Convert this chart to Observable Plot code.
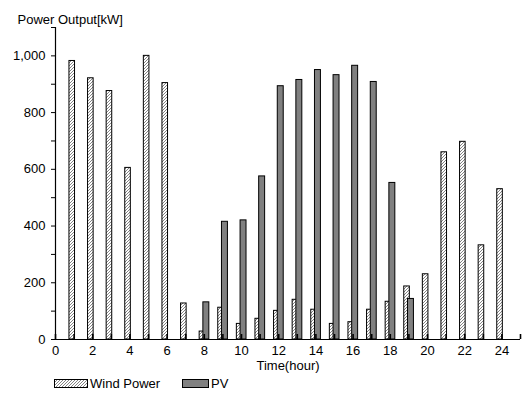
<!DOCTYPE html>
<html><head><meta charset="utf-8">
<script src="https://cdn.jsdelivr.net/npm/d3@7"></script>
<script src="https://cdn.jsdelivr.net/npm/@observablehq/plot@0.6"></script>
<style>
body{margin:0;background:#fff;font-family:"Liberation Sans",Arial,sans-serif}
#legend{position:relative;height:20px;width:523px}
</style>
</head><body><div id="chart"></div><div id="legend"></div>
<script>
const hours = d3.range(1, 25);
const windPower = [982, 921, 876, 605, 1000, 904, 127, 28, 112, 55, 73, 101, 140, 105, 55, 61, 105, 133, 187, 230, 660, 697, 332, 530];
const pvPower = [0, 0, 0, 0, 0, 0, 0, 131, 415, 420, 575, 893, 915, 950, 932, 965, 908, 552, 143, 0, 0, 0, 0, 0];
const xTickValues = d3.range(0, 26);
const xLabelValues = d3.range(0, 25, 2);
const yMajorTicks = [0, 200, 400, 600, 800, 1000];
const yMinorTicks = [100, 300, 500, 700, 900, 1100];
const seriesNames = ["Wind Power", "PV"];

const windRows = hours.map((h, i) => ({hour: h, value: windPower[i]})).filter(d => d.value > 0);
const pvRows = hours.map((h, i) => ({hour: h, value: pvPower[i]})).filter(d => d.value > 0);

const chart = Plot.plot({
  width: 523,
  height: 374,
  marginLeft: 55,
  marginRight: 3,
  marginTop: 27,
  marginBottom: 35,
  style: {fontFamily: "Liberation Sans, Arial, sans-serif", fontSize: "13px", color: "black", background: "white"},
  x: {domain: [0, 25], label: null},
  y: {domain: [0, 1100], label: null},
  marks: [
    Plot.rectY(windRows, {x1: d => d.hour - 0.25, x2: d => d.hour + 0.05, y: "value", fill: "url(#hatch)", stroke: "black", strokeWidth: 1}),
    Plot.rectY(pvRows, {x1: d => d.hour - 0.05, x2: d => d.hour + 0.27, y: "value", fill: "#808080", stroke: "black", strokeWidth: 1}),
    Plot.ruleY([0], {stroke: "black", strokeWidth: 1.2}),
    Plot.ruleX([0], {stroke: "black", strokeWidth: 1.2}),
    Plot.axisX({ticks: xTickValues, tickSize: -5, text: null, label: null, strokeWidth: 1.6}),
    Plot.axisX({ticks: xLabelValues, tickSize: 0, tickPadding: 6, label: null, fill: "black"}),
    Plot.axisY({ticks: yMajorTicks, tickSize: 4, tickPadding: 6, tickFormat: d3.format(","), label: null, fill: "black"}),
    Plot.axisY({ticks: yMinorTicks, tickSize: 4, text: null, label: null}),
    Plot.text(["Power Output[kW]"], {frameAnchor: "top-left", textAnchor: "start", lineAnchor: "top", dx: -38, dy: -13, fill: "black", fontSize: 13}),
    Plot.text(["Time(hour)"], {frameAnchor: "bottom", lineAnchor: "top", dy: 21, fill: "black", fontSize: 13})
  ]
});

d3.select(chart).insert("defs", ":first-child").html(
  '<pattern id="hatch" patternUnits="userSpaceOnUse" width="3" height="3">' +
  '<rect width="3" height="3" fill="white"/>' +
  '<path d="M-1,1 l2,-2 M0,3 l3,-3 M2,4 l2,-2" stroke="#666" stroke-width="0.8"/></pattern>'
);
document.getElementById("chart").appendChild(chart);

const lg = d3.select("#legend").append("svg").attr("width", 523).attr("height", 20)
  .style("font-family", "Liberation Sans, Arial, sans-serif").style("font-size", "13px");
lg.append("defs").html(
  '<pattern id="hatchL" patternUnits="userSpaceOnUse" width="3" height="3">' +
  '<rect width="3" height="3" fill="white"/>' +
  '<path d="M-1,1 l2,-2 M0,3 l3,-3 M2,4 l2,-2" stroke="#666" stroke-width="0.8"/></pattern>'
);
const legendItems = [
  {name: seriesNames[0], fill: "url(#hatchL)", x: 54, w: 33},
  {name: seriesNames[1], fill: "#808080", x: 182, w: 26}
];
legendItems.forEach(it => {
  lg.append("rect").attr("x", it.x + 0.5).attr("y", 5.5).attr("width", it.w).attr("height", 8)
    .attr("fill", it.fill).attr("stroke", "black");
  lg.append("text").attr("x", it.x + it.w + 3).attr("y", 14).text(it.name);
});
</script>
</body></html>
